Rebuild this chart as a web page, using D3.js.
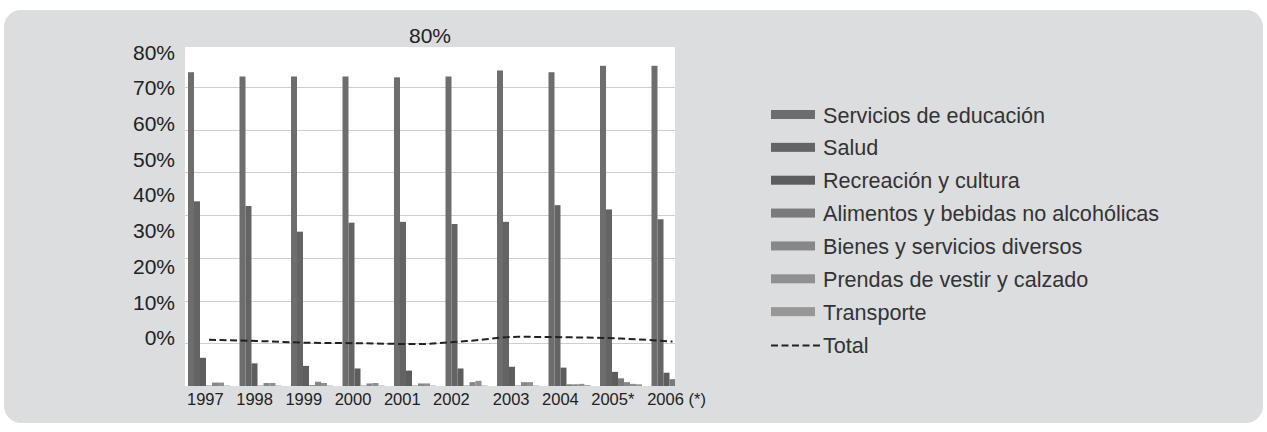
<!DOCTYPE html>
<html>
<head>
<meta charset="utf-8">
<script src="https://cdn.jsdelivr.net/npm/d3@7"></script>
<style>
  html, body { margin: 0; padding: 0; background: #ffffff; }
  svg { display: block; font-family: "Liberation Sans", Arial, sans-serif; }
</style>
</head>
<body>
<svg id="chart" width="1267" height="432"></svg>
<script>
// ---- data ----
const years = ["1997", "1998", "1999", "2000", "2001", "2002", "2003", "2004", "2005*", "2006 (*)"];
const seriesNames = [
  "Servicios de educación",
  "Salud",
  "Recreación y cultura",
  "Alimentos y bebidas no alcohólicas",
  "Bienes y servicios diversos",
  "Prendas de vestir y calzado",
  "Transporte"
];
const educacion  = [73.4, 72.4, 72.4, 72.4, 72.2, 72.4, 73.8, 73.4, 74.9, 74.9];
const salud      = [43.2, 42.1, 36.1, 38.2, 38.4, 37.9, 38.4, 42.3, 41.3, 39.0];
const recreacion = [6.6, 5.3, 4.7, 4.1, 3.6, 4.1, 4.5, 4.3, 3.3, 3.1];
const alimentos  = [0.1, 0.1, 0.2, 0.1, 0.1, 0.1, 0.1, 0.4, 1.8, 1.6];
const bienes     = [0.8, 0.7, 1.0, 0.6, 0.6, 0.9, 0.9, 0.4, 0.9, 0.8];
const prendas    = [0.8, 0.7, 0.7, 0.7, 0.6, 1.2, 0.9, 0.5, 0.5, 0.5];
const transporte = [0.1, 0.1, 0.1, 0.1, 0.1, 0.1, 0.1, 0.2, 0.4, 0.3];
const total      = [10.8, 10.5, 10.1, 10.0, 9.8, 10.5, 11.5, 11.4, 11.1, 10.4];
const yTickLabels = [0, 10, 20, 30, 40, 50, 60, 70, 80];
const gridTicks = [10, 20, 30, 40, 50, 60, 70];
const headLabel = "80%";
const seriesColors = ["#6d6d6d", "#646464", "#5d5d5d", "#7a7a7a", "#878787", "#909090", "#979797"];

const seriesValues = [educacion, salud, recreacion, alimentos, bienes, prendas, transporte];

// ---- layout ----
const plot = { left: 185, right: 675, top: 47, bottom: 386 };
const yearLabelGaps = [12.5, 12.5, 12.5, 12.5, 12.5, 23, 12.5, 12.5, 12.8];

const svg = d3.select("#chart");

// panel background
svg.append("rect")
  .attr("x", 4).attr("y", 10)
  .attr("width", 1259).attr("height", 413)
  .attr("rx", 17).attr("ry", 17)
  .attr("fill", "#dcdddf");

// plot area
svg.append("rect")
  .attr("x", plot.left).attr("y", plot.top)
  .attr("width", plot.right - plot.left).attr("height", plot.bottom - plot.top)
  .attr("fill", "#ffffff");

svg.append("defs").append("clipPath").attr("id", "plotClip")
  .append("rect")
  .attr("x", plot.left).attr("y", plot.top)
  .attr("width", plot.right - plot.left).attr("height", plot.bottom - plot.top);

// scales
const y = d3.scaleLinear().domain([0, 80]).range([plot.bottom, 44]);
const x0 = d3.scaleBand().domain(years)
  .range([188, 188 + 9 * 51.5 + 42])
  .paddingInner(9.5 / 51.5).paddingOuter(0).align(0);
const x1 = d3.scaleBand().domain(d3.range(seriesNames.length))
  .range([0, x0.bandwidth()]).padding(0);

// horizontal gridlines
svg.append("g")
  .selectAll("line")
  .data(gridTicks)
  .join("line")
  .attr("x1", plot.left).attr("x2", plot.right)
  .attr("y1", d => Math.round(y(d)) + 0.5).attr("y2", d => Math.round(y(d)) + 0.5)
  .attr("stroke", "#cfcfcf").attr("stroke-width", 1.2);

const chartArea = svg.append("g").attr("clip-path", "url(#plotClip)");

// grouped bars
const groups = chartArea.selectAll("g.year")
  .data(years)
  .join("g")
  .attr("class", "year")
  .attr("transform", d => `translate(${x0(d)},0)`);

groups.selectAll("rect")
  .data((d, i) => seriesValues.map((vals, s) => ({ s, v: vals[i] })))
  .join("rect")
  .attr("x", d => x1(d.s))
  .attr("width", x1.bandwidth())
  .attr("y", d => y(d.v))
  .attr("height", d => y(0) - y(d.v))
  .attr("fill", d => seriesColors[d.s]);

// total line
const line = d3.line()
  .x((d, i) => x0(years[i]) + x0.bandwidth() / 2)
  .y(d => y(d))
  .curve(d3.curveMonotoneX);

chartArea.append("path")
  .datum(total)
  .attr("d", line)
  .attr("fill", "none")
  .attr("stroke", "#222")
  .attr("stroke-width", 2)
  .attr("stroke-dasharray", "7,3.5");

// y-axis labels
const yLabelScale = d3.scaleLinear().domain([0, 80]).range([338, 52.5]);
const yAxis = d3.axisLeft(yLabelScale)
  .tickValues(yTickLabels)
  .tickFormat(d => d + "%")
  .tickSize(0)
  .tickPadding(0);
const yAxisG = svg.append("g")
  .attr("transform", "translate(175,0)")
  .call(yAxis);
yAxisG.select(".domain").remove();
yAxisG.selectAll("text")
  .attr("font-size", 21)
  .attr("font-family", "Liberation Sans, Arial, sans-serif")
  .attr("fill", "#222");

// header label above the plot
svg.append("text")
  .attr("x", 430).attr("y", 43)
  .attr("text-anchor", "middle")
  .attr("font-size", 21)
  .attr("fill", "#222")
  .text(headLabel);

// year labels laid out as a single line of text
const yearText = svg.append("text")
  .attr("y", 405)
  .attr("font-size", 16.5)
  .attr("fill", "#222");
let cursor = 187;
years.forEach((yr, i) => {
  const t = yearText.append("tspan").attr("x", cursor).text(yr);
  cursor += t.node().getComputedTextLength() + (yearLabelGaps[i] || 0);
});

// legend
const legend = svg.append("g").attr("transform", "translate(771,115)");
const rowH = 32.86;
seriesNames.forEach((name, i) => {
  const row = legend.append("g").attr("transform", `translate(0,${i * rowH})`);
  row.append("rect")
    .attr("x", 0).attr("y", -5)
    .attr("width", 44).attr("height", 9)
    .attr("fill", seriesColors[i]);
  row.append("text")
    .attr("x", 52).attr("y", 7.5)
    .attr("font-size", 21.6)
    .attr("fill", "#333")
    .text(name);
});
const totalRow = legend.append("g").attr("transform", `translate(0,${seriesNames.length * rowH})`);
totalRow.append("line")
  .attr("x1", 0).attr("x2", 49)
  .attr("y1", 0.5).attr("y2", 0.5)
  .attr("stroke", "#222")
  .attr("stroke-width", 2)
  .attr("stroke-dasharray", "7,3.5");
totalRow.append("text")
  .attr("x", 52).attr("y", 7.5)
  .attr("font-size", 21.6)
  .attr("fill", "#333")
  .text("Total");
</script>
</body>
</html>
